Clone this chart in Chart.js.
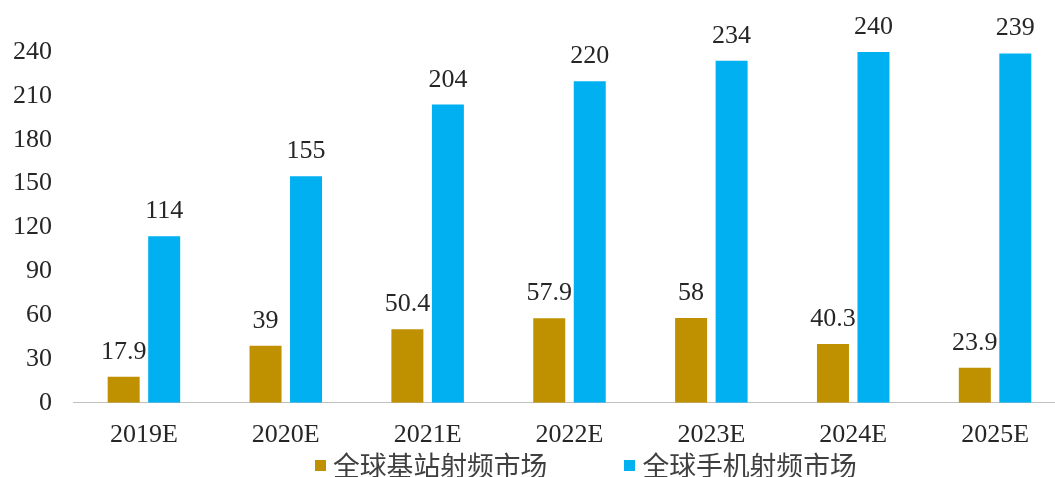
<!DOCTYPE html>
<html>
<head>
<meta charset="utf-8">
<script src="https://cdn.jsdelivr.net/npm/chart.js@4/dist/chart.umd.min.js"></script>
<style>
  html, body { margin: 0; padding: 0; background: #fff; overflow: hidden; width: 1055px; height: 477px; }
  #wrap { position: relative; width: 1066px; height: 477px; }
  #legend { position: absolute; left: 315px; top: 449px; display: flex; align-items: center;
            font-family: "Noto Sans CJK SC", sans-serif; font-size: 26.8px; color: #404040; line-height: 32px; }
  .item { display: flex; align-items: center; }
  .item + .item { margin-left: 77px; }
  .sw { width: 11px; height: 11px; margin-right: 7px; }
</style>
</head>
<body>
<div id="wrap">
  <canvas id="c" width="1066" height="477"></canvas>
  <div id="legend"></div>
</div>
<script>
// Global RF front-end market, by year (estimates)
const categories = ['2019E', '2020E', '2021E', '2022E', '2023E', '2024E', '2025E'];
const baseStation = [17.9, 39, 50.4, 57.9, 58, 40.3, 23.9];
const handset = [114, 155, 204, 220, 234, 240, 239];
const seriesNames = ['全球基站射频市场', '全球手机射频市场'];
const yTicks = [0, 30, 60, 90, 120, 150, 180, 210, 240];

const colors = ['#BF9000', '#00B0F0'];
const numFont = '"Liberation Serif", "Times New Roman", serif';

// value labels above each bar
const valueLabels = {
  id: 'valueLabels',
  afterDatasetsDraw(chart) {
    const ctx = chart.ctx;
    ctx.save();
    ctx.font = '26px ' + numFont;
    ctx.fillStyle = '#262626';
    ctx.textAlign = 'center';
    ctx.textBaseline = 'alphabetic';
    chart.data.datasets.forEach((ds, i) => {
      chart.getDatasetMeta(i).data.forEach((bar, j) => {
        ctx.fillText(String(ds.data[j]), bar.x, bar.y - 18);
      });
    });
    ctx.restore();
  }
};

const chart = new Chart(document.getElementById('c'), {
  type: 'bar',
  data: {
    labels: categories,
    datasets: [
      { label: seriesNames[0], data: baseStation, backgroundColor: colors[0] },
      { label: seriesNames[1], data: handset, backgroundColor: colors[1] }
    ]
  },
  options: {
    responsive: false,
    animation: false,
    categoryPercentage: 0.571,
    barPercentage: 0.79,
    layout: { padding: { top: 52, left: 13, right: 0, bottom: 9 } },
    plugins: { legend: { display: false }, tooltip: { enabled: false } },
    scales: {
      x: {
        grid: { display: false, drawTicks: false },
        border: { display: true, color: '#C0C0C0', width: 1 },
        ticks: { color: '#262626', font: { family: numFont, size: 26 }, padding: 17, maxRotation: 0 }
      },
      y: {
        min: 0, max: 240,
        afterBuildTicks(scale) { scale.ticks = yTicks.map(v => ({ value: v })); },
        afterFit(scale) { scale.width = 60; },
        grid: { display: false, drawTicks: false },
        border: { display: false },
        ticks: { color: '#262626', font: { family: numFont, size: 26 }, padding: 21 }
      }
    }
  },
  plugins: [valueLabels]
});

// legend built from the datasets
const legend = document.getElementById('legend');
chart.data.datasets.forEach(ds => {
  const item = document.createElement('div');
  item.className = 'item';
  const sw = document.createElement('span');
  sw.className = 'sw';
  sw.style.background = ds.backgroundColor;
  const txt = document.createElement('span');
  txt.textContent = ds.label;
  item.appendChild(sw);
  item.appendChild(txt);
  legend.appendChild(item);
});
</script>
</body>
</html>
